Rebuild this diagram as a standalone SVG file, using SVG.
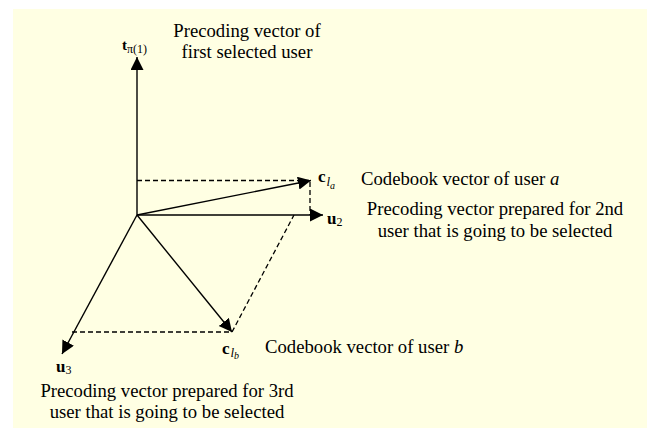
<svg xmlns="http://www.w3.org/2000/svg" width="647" height="428" viewBox="0 0 647 428">
<style>
.bg{fill:#FFFFE3;stroke:none}
.t{font-family:"Liberation Serif","Times New Roman",serif;font-size:18.7px;fill:#000}
.v{font-family:"Liberation Serif","Times New Roman",serif;font-size:17px;font-weight:bold;fill:#000}
.s{font-family:"Liberation Serif","Times New Roman",serif;font-size:12px;font-weight:normal;fill:#000}
.si{font-family:"Liberation Serif","Times New Roman",serif;font-size:13px;font-style:italic;fill:#000}
.ssi{font-family:"Liberation Serif","Times New Roman",serif;font-size:10px;font-style:italic;fill:#000}
.arr{stroke:#000;stroke-width:1.4;fill:none;marker-end:url(#ah)}
.dash{stroke:#000;stroke-width:1.3;fill:none;stroke-dasharray:5,3}
</style>
<defs>
<marker id="ah" markerUnits="userSpaceOnUse" markerWidth="14" markerHeight="14" refX="13" refY="6.5" orient="auto">
<path d="M0,0 L13,6.5 L0,13 z" fill="#000"/>
</marker>
</defs>
<rect class="bg" x="13" y="9" width="634" height="419"/>
<g id="connectors">
<line class="dash" x1="137" y1="180.5" x2="309" y2="180.5"/>
<line class="dash" x1="310" y1="182" x2="310" y2="215"/>
<line class="dash" x1="72" y1="332" x2="231" y2="332"/>
<line class="dash" x1="232" y1="332" x2="294" y2="215"/>
<line class="arr" x1="137" y1="215" x2="137" y2="57"/>
<line class="arr" x1="137" y1="215" x2="323" y2="215"/>
<line class="arr" x1="137" y1="215" x2="311" y2="180.5"/>
<line class="arr" x1="137" y1="215" x2="232" y2="332"/>
<line class="arr" x1="137" y1="215" x2="62" y2="354"/>
</g>
<g id="node-t">
<text class="v" x="122" y="50" style="font-size:15px">t<tspan class="s" dy="3">π(1)</tspan></text>
<text class="t" x="247" y="37" text-anchor="middle">Precoding vector of</text>
<text class="t" x="247" y="58" text-anchor="middle">first selected user</text>
</g>
<g id="node-ca">
<text class="v" x="318" y="182">c</text>
<text class="si" x="326.5" y="186">l</text>
<text class="ssi" x="330" y="189">a</text>
<text class="t" x="361" y="185">Codebook vector of user <tspan font-style="italic">a</tspan></text>
</g>
<g id="node-u2">
<text class="v" x="327" y="224">u<tspan class="s" dy="2">2</tspan></text>
<text class="t" x="495" y="215" text-anchor="middle">Precoding vector prepared for 2nd</text>
<text class="t" x="495" y="237" text-anchor="middle">user that is going to be selected</text>
</g>
<g id="node-cb">
<text class="v" x="222" y="354">c</text>
<text class="si" x="230.5" y="357">l</text>
<text class="ssi" x="234" y="359">b</text>
<text class="t" x="265" y="353">Codebook vector of user <tspan font-style="italic">b</tspan></text>
</g>
<g id="node-u3">
<text class="v" x="56" y="372">u<tspan class="s" dy="2">3</tspan></text>
<text class="t" x="167" y="397" text-anchor="middle">Precoding vector prepared for 3rd</text>
<text class="t" x="167" y="418" text-anchor="middle">user that is going to be selected</text>
</g>
</svg>
